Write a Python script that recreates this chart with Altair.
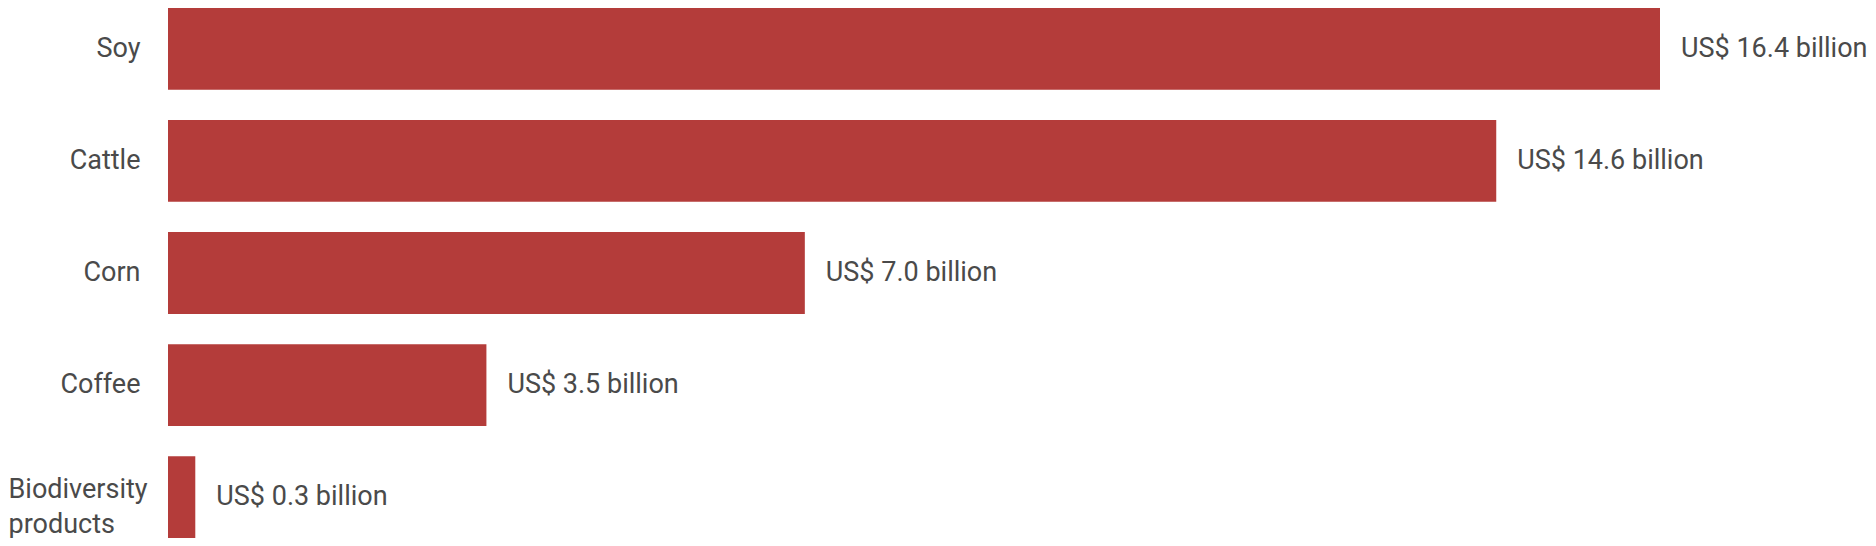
import altair as alt
import pandas as pd

categories = ["Soy", "Cattle", "Corn", "Coffee", "Biodiversity products"]
values = [16.4, 14.6, 7.0, 3.5, 0.3]
labels = ["US$ 16.4 billion", "US$ 14.6 billion", "US$ 7.0 billion", "US$ 3.5 billion", "US$ 0.3 billion"]

df = pd.DataFrame({"cat": categories, "val": values, "lab": labels})

FONT = "Roboto"
TXT = "#4a4a4a"
IS_BIO = "datum.value == 'Biodiversity products'"

y = alt.Y("cat:N", sort=categories, title=None,
          scale=alt.Scale(paddingInner=0.27, paddingOuter=0),
          axis=alt.Axis(domain=False, ticks=False,
                        labelPadding={"condition": {"test": IS_BIO, "value": 160}, "value": 28},
                        labelAlign={"condition": {"test": IS_BIO, "value": "left"}, "value": "right"},
                        labelOffset={"condition": {"test": IS_BIO, "value": -7}, "value": 0},
                        labelFont=FONT, labelFontSize=27, labelColor=TXT, labelLineHeight=35,
                        labelLimit=400,
                        labelExpr=IS_BIO + " ? ['Biodiversity', 'products'] : datum.value"))
x = alt.X("val:Q", title=None, axis=None,
          scale=alt.Scale(domain=[0, 16.4], nice=False, zero=True))

bars = alt.Chart(df).mark_bar(color="#b43c3a").encode(x=x, y=y)
text = alt.Chart(df).mark_text(align="left", baseline="middle", dx=21, font=FONT,
                               fontSize=27, color=TXT).encode(x=x, y=y, text="lab:N")

chart = (bars + text).properties(
    width=1860, height=530, padding=0,
    autosize=alt.AutoSizeParams(type="fit", contains="padding"),
).configure_view(stroke=None)

chart.save("out.html", embed_options={"renderer": "svg", "actions": False})
